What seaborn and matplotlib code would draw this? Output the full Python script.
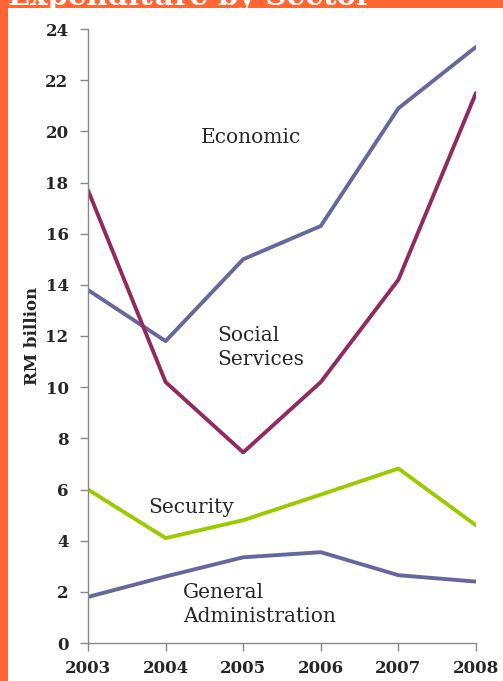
import pandas as pd
import matplotlib
matplotlib.use('Agg')
import matplotlib.pyplot as plt
import seaborn as sns

years = [2003, 2004, 2005, 2006, 2007, 2008]
economic = [13.8, 11.8, 15.0, 16.3, 20.9, 23.3]
social = [17.7, 10.2, 7.45, 10.2, 14.2, 21.5]
security = [6.0, 4.1, 4.8, 5.8, 6.82, 4.6]
general_admin = [1.8, 2.6, 3.35, 3.55, 2.65, 2.4]

sectors = ['Economic', 'Social Services', 'Security', 'General Administration']
colors = ['#67679f', '#922a5e', '#99cc00', '#67679f']

df = pd.DataFrame({
    'Year': years * 4,
    'Value': economic + social + security + general_admin,
    'Sector': [s for s in sectors for _ in years],
})

sns.set_style('white')
plt.rcParams['font.family'] = ['DejaVu Serif']

fig = plt.figure(figsize=(5.03, 6.81), dpi=100)
fig.patch.set_facecolor('#ff6633')
# white panel, orange strip only on left and top
fig.add_artist(plt.Rectangle((8 / 503, 0), 1, 1 - 8 / 681, transform=fig.transFigure,
                             facecolor='white', edgecolor='none', zorder=0))
fig.text(8 / 503, 1 - 5 / 681, 'Expenditure by Sector', color='white', fontsize=21,
         fontweight='bold', ha='left', va='baseline')

ax = fig.add_axes([88 / 503, 1 - 643 / 681, (476 - 88) / 503, (643 - 29) / 681])
ax.set_facecolor('none')
sns.lineplot(data=df, x='Year', y='Value', hue='Sector', palette=colors,
             linewidth=2.8, legend=False, ax=ax)

ax.set_xlim(2003, 2008)
ax.set_ylim(0, 24)
ax.set_xticks(years)
ax.set_yticks(range(0, 25, 2))
ax.set_xticklabels([str(y) for y in years], fontweight='bold', fontsize=12)
ax.set_yticklabels([str(v) for v in range(0, 25, 2)], fontweight='bold', fontsize=12)
ax.tick_params(axis='both', which='both', length=6, width=1, color='#888888',
               left=True, bottom=True, direction='out')
ax.tick_params(axis='x', pad=6)
ax.tick_params(axis='y', pad=8)
for side in ['top', 'right']:
    ax.spines[side].set_visible(False)
for side in ['left', 'bottom']:
    ax.spines[side].set_color('#888888')
    ax.spines[side].set_linewidth(1)
ax.set_xlabel('')
ax.set_ylabel('RM billion', fontweight='bold', fontsize=12, labelpad=3)

ax.text(2004.45, 19.75, 'Economic', fontsize=14.5, ha='left', va='center')
ax.text(2004.66, 11.55, 'Social\nServices', fontsize=14.5, ha='left', va='center', linespacing=1.3)
ax.text(2003.77, 5.3, 'Security', fontsize=14.5, ha='left', va='center')
ax.text(2004.22, 1.5, 'General\nAdministration', fontsize=14.5, ha='left', va='center', linespacing=1.3)

fig.savefig('out.png', dpi=100, facecolor=fig.get_facecolor())
